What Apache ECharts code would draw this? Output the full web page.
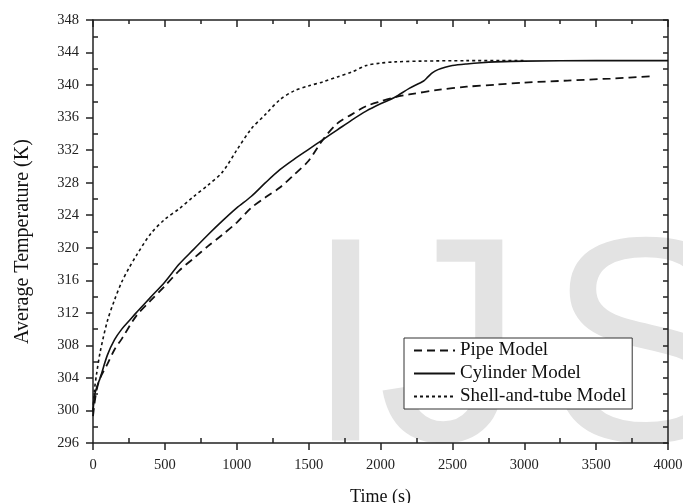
<!DOCTYPE html>
<html><head><meta charset="utf-8">
<script src="https://cdn.jsdelivr.net/npm/echarts@6/dist/echarts.min.js"></script>
<style>html,body{margin:0;padding:0;background:#fff}#c{width:683px;height:503px}</style>
</head><body><div id="c"></div>
<script>
// ---- data ----
const seriesNames = ['Pipe Model', 'Cylinder Model', 'Shell-and-tube Model'];

const pipeTime = [0,10,25,50,100,150,200,300,400,500,600,700,800,900,1000,1100,1200,1300,1400,1500,1600,1700,1800,1900,2000,2100,2200,2400,2600,2800,3000,3300,3600,3900];
const pipeTemp = [299.3,300.8,302.5,304,305.7,307.5,308.8,311.6,313.5,315.3,317.2,318.7,320.2,321.6,323.1,324.9,326.2,327.4,329,330.7,333.3,335.3,336.4,337.4,338,338.5,338.85,339.4,339.8,340.05,340.3,340.55,340.8,341.1];

const cylTime = [0,10,25,50,100,150,200,250,300,400,500,600,700,800,900,1000,1100,1200,1300,1400,1500,1600,1700,1800,1900,2000,2100,2200,2300,2330,2360,2400,2450,2500,2600,2700,2800,3000,3500,4000];
const cylTemp = [299.8,301.8,302.8,304,306.8,308.7,310,311,312,313.9,315.8,318,319.8,321.6,323.3,324.9,326.3,328,329.6,330.9,332.1,333.3,334.5,335.7,336.8,337.7,338.5,339.6,340.5,341.0,341.5,341.9,342.2,342.4,342.6,342.75,342.85,342.95,343,343];

const shellTime = [0,10,25,50,100,150,200,250,300,400,500,600,700,800,900,1000,1100,1200,1300,1400,1500,1600,1700,1800,1900,2000,2100,2300,2600,3000];
const shellTemp = [300,302.5,304.5,307.2,311,313.6,315.8,317.5,319,321.7,323.5,324.8,326.3,327.7,329.3,332,334.6,336.4,338.2,339.3,339.9,340.4,341,341.6,342.4,342.7,342.85,342.95,343,343];

const xTicks = {min: 0, max: 4000, interval: 500};
const yTicks = {min: 296, max: 348, interval: 4};

function pairs(t, v) { return t.map((x, i) => [x, v[i]]); }

const chart = echarts.init(document.getElementById('c'), null, {renderer: 'canvas'});
const serif = '"Liberation Serif", "Times New Roman", serif';
const axisCol = '#222';
const wmFont = '292px "Liberation Sans", Arial, sans-serif';
const wmFill = '#e3e3e3';

const base = {type: 'value', min: xTicks.min, max: xTicks.max, interval: xTicks.interval, gridIndex: 0, splitLine: {show: false}};
const ybase = {type: 'value', min: yTicks.min, max: yTicks.max, interval: yTicks.interval, gridIndex: 0, splitLine: {show: false}};
const plain = v => String(v);

chart.setOption({
  animation: false,
  backgroundColor: '#fff',
  grid: {left: 93, right: 15, top: 20, bottom: 60, containLabel: false, outerBoundsMode: 'none'},
  graphic: [
    {type: 'text', z: -10, silent: true, x: 305, y: 360, style: {text: 'I', font: wmFont, fill: wmFill, verticalAlign: 'middle', align: 'left'}},
    {type: 'text', z: -10, silent: true, x: 378, y: 360, style: {text: 'J', font: wmFont, fill: wmFill, verticalAlign: 'middle', align: 'left'}},
    {type: 'text', z: -10, silent: true, x: 547, y: 360, style: {text: 'S', font: wmFont, fill: wmFill, verticalAlign: 'middle', align: 'left'}}
  ],
  legend: {
    orient: 'vertical', left: 404, top: 338,
    data: seriesNames,
    backgroundColor: '#fff', borderColor: '#333', borderWidth: 1,
    padding: [3, 6, 3, 9], itemGap: 4, itemWidth: 41, itemHeight: 14,
    itemStyle: {color: 'rgba(0,0,0,0)', borderWidth: 0, opacity: 0},
    textStyle: {fontFamily: serif, fontSize: 19, color: '#111'}
  },
  xAxis: [
    Object.assign({}, base, {
      position: 'bottom',
      axisLine: {show: true, onZero: false, lineStyle: {color: axisCol, width: 1.5}},
      axisTick: {show: true, inside: false, length: 7, lineStyle: {color: axisCol, width: 1.5}},
      axisLabel: {show: true, margin: 15, fontFamily: serif, fontSize: 14.5, color: '#222', formatter: plain},
      name: 'Time (s)', nameLocation: 'middle', nameGap: 45,
      nameTextStyle: {fontFamily: serif, fontSize: 18, color: '#111'}
    }),
    Object.assign({}, base, {
      position: 'bottom',
      axisLine: {show: false, onZero: false},
      axisTick: {show: false, inside: true},
      minorTick: {show: true, splitNumber: 2, length: 5, lineStyle: {color: axisCol, width: 1.5}},
      axisLabel: {show: false}
    }),
    Object.assign({}, base, {
      position: 'top',
      axisLine: {show: true, onZero: false, lineStyle: {color: axisCol, width: 1.5}},
      axisTick: {show: true, inside: true, length: 7, lineStyle: {color: axisCol, width: 1.5}},
      minorTick: {show: true, splitNumber: 2, length: 4, lineStyle: {color: axisCol, width: 1.5}},
      axisLabel: {show: false}
    })
  ],
  yAxis: [
    Object.assign({}, ybase, {
      position: 'left',
      axisLine: {show: true, onZero: false, lineStyle: {color: axisCol, width: 1.5}},
      axisTick: {show: true, inside: false, length: 7, lineStyle: {color: axisCol, width: 1.5}},
      axisLabel: {show: true, margin: 14, fontFamily: serif, fontSize: 14.5, color: '#222', formatter: plain},
      name: 'Average Temperature (K)', nameLocation: 'middle', nameGap: 60, nameRotate: 90,
      nameTextStyle: {fontFamily: serif, fontSize: 20, color: '#111', padding: [0, 20, 0, 0]}
    }),
    Object.assign({}, ybase, {
      position: 'left',
      axisLine: {show: false, onZero: false},
      axisTick: {show: false, inside: true},
      minorTick: {show: true, splitNumber: 2, length: 5, lineStyle: {color: axisCol, width: 1.5}},
      axisLabel: {show: false}
    }),
    Object.assign({}, ybase, {
      position: 'right',
      axisLine: {show: true, onZero: false, lineStyle: {color: axisCol, width: 1.5}},
      axisTick: {show: true, inside: true, length: 5, lineStyle: {color: axisCol, width: 1.5}},
      minorTick: {show: true, splitNumber: 2, length: 5, lineStyle: {color: axisCol, width: 1.5}},
      axisLabel: {show: false}
    })
  ],
  series: [
    {name: seriesNames[0], type: 'line', xAxisIndex: 0, yAxisIndex: 0, data: pairs(pipeTime, pipeTemp),
     smooth: 0.3, symbol: 'none', lineStyle: {color: '#111', width: 1.8, type: [8, 5]}, itemStyle: {color: '#111'}},
    {name: seriesNames[1], type: 'line', xAxisIndex: 0, yAxisIndex: 0, data: pairs(cylTime, cylTemp),
     smooth: 0.3, symbol: 'none', lineStyle: {color: '#111', width: 1.6, type: 'solid'}, itemStyle: {color: '#111'}},
    {name: seriesNames[2], type: 'line', xAxisIndex: 0, yAxisIndex: 0, data: pairs(shellTime, shellTemp),
     smooth: 0.3, symbol: 'none', lineStyle: {color: '#111', width: 1.6, type: [3, 3]}, itemStyle: {color: '#111'}}
  ]
});
</script>
</body></html>
